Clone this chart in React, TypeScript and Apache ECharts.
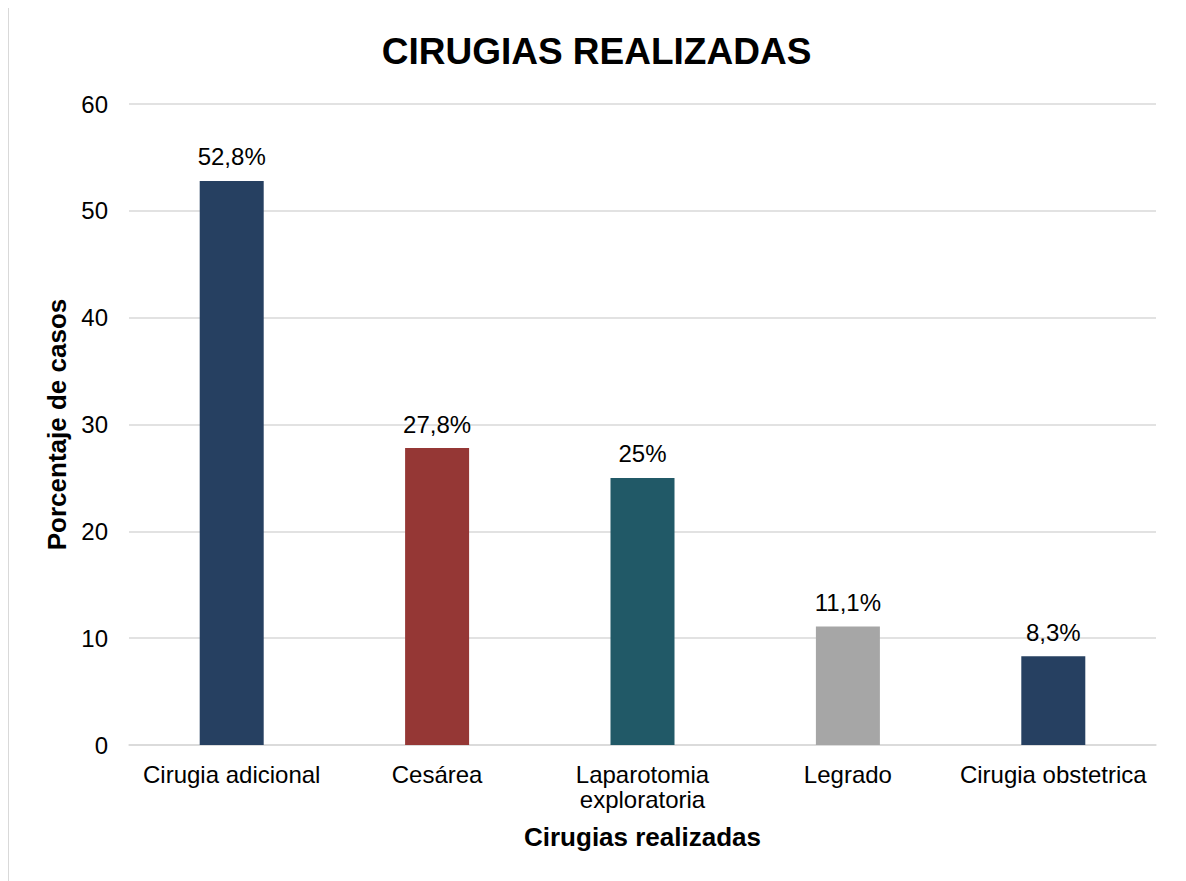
import React, { useEffect, useRef } from "react";
import * as echarts from "echarts";

const categories = ["Cirugia adicional", "Cesárea", "Laparotomia\nexploratoria", "Legrado", "Cirugia obstetrica"];
const values = [52.8, 27.8, 25, 11.1, 8.3];
const barColors = ["#264061", "#953735", "#215967", "#a6a6a6", "#264061"];
const yTicks = { min: 0, max: 60, interval: 10 };

export default function App() {
  const ref = useRef<HTMLDivElement>(null);
  useEffect(() => {
    if (!ref.current) return;
    const chart = echarts.init(ref.current, undefined, { renderer: "svg" });
    const font = "'Liberation Sans', Arial, sans-serif";
    chart.setOption({
      animation: false,
      backgroundColor: "#ffffff",
      title: {
        text: "CIRUGIAS REALIZADAS",
        left: "center",
        top: 20,
        textStyle: { fontFamily: font, fontSize: 37, fontWeight: "bold", color: "#000" },
      },
      grid: { left: 120, right: 28, top: 96, bottom: 141 },
      xAxis: {
        type: "category",
        data: categories,
        name: "Cirugias realizadas",
        nameLocation: "middle",
        nameGap: 79,
        nameTextStyle: { fontFamily: font, fontSize: 26, fontWeight: "bold", color: "#000" },
        axisLine: { show: true, lineStyle: { color: "#d9d9d9", width: 1.5 } },
        axisTick: { show: false },
        axisLabel: { fontFamily: font, fontSize: 24, color: "#000", margin: 17, lineHeight: 25, interval: 0 },
      },
      yAxis: {
        type: "value",
        min: yTicks.min,
        max: yTicks.max,
        interval: yTicks.interval,
        name: "Porcentaje de casos",
        nameLocation: "middle",
        nameGap: 57,
        nameTextStyle: { fontFamily: font, fontSize: 26, fontWeight: "bold", color: "#000" },
        axisLine: { show: false },
        axisTick: { show: false },
        axisLabel: { fontFamily: font, fontSize: 24, color: "#000", margin: 21 },
        splitLine: { lineStyle: { color: "#d9d9d9", width: 1.5 } },
      },
      series: [
        {
          type: "bar",
          barWidth: 64,
          data: values.map((v, i) => ({ value: v, itemStyle: { color: barColors[i] } })),
          label: {
            show: true,
            position: "top",
            distance: 12,
            fontFamily: font,
            fontSize: 24,
            color: "#000",
            formatter: (p: any) => String(p.value).replace(".", ",") + "%",
          },
        },
      ],
    });
    return () => chart.dispose();
  }, []);
  return (
    <div
      ref={ref}
      style={{ width: 1177, height: 880, border: "1px solid #d9d9d9", boxSizing: "border-box", marginTop: -1 }}
    />
  );
}
